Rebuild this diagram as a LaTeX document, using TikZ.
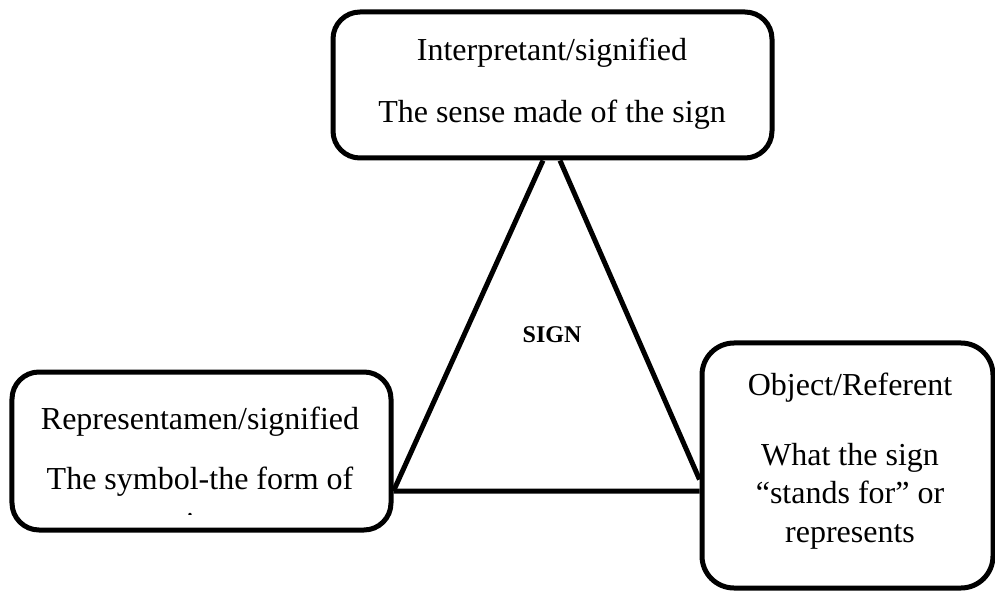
\documentclass[tikz,border=0pt]{standalone}
\usepackage{fontspec}
\setmainfont{Liberation Serif}
\begin{document}
\begin{tikzpicture}[x=1bp,y=-1bp,
  box/.style={draw=black, line width=5bp, rounded corners=27bp, rectangle, inner sep=0pt},
  txt/.style={anchor=base, inner sep=0pt, font=\fontsize{32bp}{38.5bp}\selectfont},
  signtxt/.style={anchor=base, inner sep=0pt, font=\fontsize{24bp}{28bp}\selectfont\bfseries},
  edge/.style={draw=black, line width=5bp}]
\useasboundingbox (0,0) rectangle (995,592);
% boxes
\node[box, minimum width=439bp, minimum height=146bp] (top) at (552.5,85) {};
\node[box, minimum width=379bp, minimum height=158bp] (left) at (201.5,451) {};
\node[box, minimum width=291bp, minimum height=245bp, rounded corners=32bp] (right) at (847.5,465.5) {};
% connection points
\coordinate (tL) at ([xshift=-9.5bp]top.south);
\coordinate (tR) at ([xshift=7.5bp]top.south);
\coordinate (lE) at ([yshift=-40bp]left.east);
\coordinate (rD) at ([yshift=-14bp]right.west);
\coordinate (rH) at ([yshift=-25.5bp]right.west);
% triangle
\draw[edge] (tL) -- (lE);
\draw[edge] (tR) -- (rD);
\draw[edge] (lE) -- (rH);
% texts
\node[txt] (t1) at (552,61) {Interpretant/signified};
\node[txt] (t2) at (552,123) {The sense made of the sign};
\node[signtxt] (sg) at (552,342) {SIGN};
\node[txt] (l1) at (200,429) {Representamen/signified};
\node[txt] (l2) at (200,489) {The symbol-the form of};
\begin{scope}
\clip (14,374) rectangle (389,514.5);
\node[txt] (l3) at (200,534) {sign};
\end{scope}
\node[txt] (r1) at (850,395) {Object/Referent};
\node[txt] (r2) at (850,465) {What the sign};
\node[txt] (r3) at (850,503.5) {``stands for'' or};
\node[txt] (r4) at (850,542) {represents};
\end{tikzpicture}
\end{document}
